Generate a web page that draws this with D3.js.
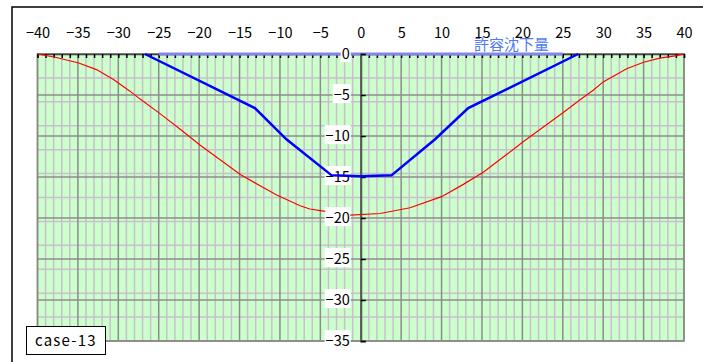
<!DOCTYPE html>
<html>
<head>
<meta charset="utf-8">
<script src="https://cdn.jsdelivr.net/npm/d3@7"></script>
<style>
  body { margin: 0; background: #fff; }
  svg text { font-family: "Noto Sans CJK JP", "Noto Sans", sans-serif; }
</style>
</head>
<body>
<svg id="chart" width="703" height="362"></svg>
<script>
// tick labels
const xTicks = [-40, -35, -30, -25, -20, -15, -10, -5, 0, 5, 10, 15, 20, 25, 30, 35, 40];
const yTicks = [0, -5, -10, -15, -20, -25, -30, -35];

// blue settlement line
const blueX = [-26.7, -13.1, -9.2, -3.6, 0, 3.8, 9.2, 13.3, 26.9];
const blueY = [0, -6.6, -10.4, -14.8, -14.9, -14.8, -10.4, -6.6, 0];

// red curve (null = gap)
const redX = [-40, -37.8, -34.9, -32.7, -30.6, -28.6, -27.3, -24.8, -22.3, -19.9, -17.4, -14.9, -12.4, -10.4, -7.5, -6.3, -4.4,
              -2.8,
              -1.3, 2.4, 6.1, 10, 12.7, 15.2, 17.6, 20.1, 22.6, 25.1, 27.1, 28.8, 30, 32.9, 35, 37, 39.1, 40];
const redY = [0, -0.4, -1.1, -1.9, -3.1, -4.5, -5.5, -7.3, -9.2, -11.1, -12.9, -14.7, -16.1, -17.2, -18.5, -18.9, -19.2,
              null,
              -19.65, -19.45, -18.75, -17.4, -15.9, -14.4, -12.6, -10.7, -8.9, -7.1, -5.6, -4.4, -3.4, -1.8, -1.0, -0.5, -0.2, 0];

// allowable settlement line
const limitX = [-25, 25];
const limitY = [0, 0];

const svg = d3.select('#chart');
const margin = { left: 37.5, right: 19, top: 54, bottom: 21 };
const width = +svg.attr('width');
const height = +svg.attr('height');

const x = d3.scaleLinear().domain([-40, 40]).range([margin.left, width - margin.right]);
const y = d3.scaleLinear().domain([0, -35]).range([margin.top, height - margin.bottom]);

// outer frame
svg.append('path')
    .attr('d', `M12,362 L12,7 L703,7`)
    .attr('fill', 'none')
    .attr('stroke', '#000')
    .attr('stroke-width', 1.5);

// plot background
svg.append('rect')
    .attr('x', x(-40)).attr('y', y(0))
    .attr('width', x(40) - x(-40)).attr('height', y(-35) - y(0))
    .attr('fill', '#ccffcc');

const grid = svg.append('g');
const minorX = d3.range(-39, 40).filter(d => d % 5 !== 0);
const minorY = d3.range(1, 12).map(i => -35 * i / 12);

grid.selectAll('.vminor').data(minorX).enter().append('line')
    .attr('x1', d => x(d)).attr('x2', d => x(d))
    .attr('y1', y(0)).attr('y2', y(-35))
    .attr('stroke', '#c8c0cc').attr('stroke-width', 1.5);

grid.selectAll('.hminor').data(minorY).enter().append('line')
    .attr('x1', x(-40)).attr('x2', x(40))
    .attr('y1', d => y(d)).attr('y2', d => y(d))
    .attr('stroke', '#c8c0cc').attr('stroke-width', 1.5);

grid.selectAll('.vmajor').data(xTicks).enter().append('line')
    .attr('x1', d => x(d)).attr('x2', d => x(d))
    .attr('y1', y(0)).attr('y2', y(-35))
    .attr('stroke', '#8c8c8c').attr('stroke-width', 1.5);

grid.selectAll('.hmajor').data(yTicks).enter().append('line')
    .attr('x1', x(-40)).attr('x2', x(40))
    .attr('y1', d => y(d)).attr('y2', d => y(d))
    .attr('stroke', '#8c8c8c').attr('stroke-width', 1.5);

// plot border
svg.append('rect')
    .attr('x', x(-40)).attr('y', y(0))
    .attr('width', x(40) - x(-40)).attr('height', y(-35) - y(0))
    .attr('fill', 'none')
    .attr('stroke', '#888').attr('stroke-width', 1.5);

const fmt = d => String(d).replace('-', '\u2212');

// top axis: labels
const xAxisG = svg.append('g')
    .attr('transform', `translate(0, ${y(0)})`)
    .call(d3.axisTop(x).tickValues(xTicks).tickSize(0).tickPadding(16).tickFormat(fmt));
xAxisG.select('.domain').remove();
xAxisG.selectAll('text').attr('font-size', 14.5).attr('fill', '#000');

// top axis: minor ticks pointing down
const xTickG = svg.append('g')
    .attr('transform', `translate(0, ${y(0)})`)
    .call(d3.axisBottom(x).tickValues(d3.range(-40, 41)).tickSize(4).tickFormat(''));
xTickG.select('.domain').attr('stroke', '#444').attr('stroke-width', 1.5);
xTickG.selectAll('.tick line').attr('stroke', '#000').attr('stroke-width', 1.5);

// allowable settlement
const line = d3.line().x(d => x(d[0])).y(d => y(d[1]));
svg.append('path')
    .datum(limitX.map((d, i) => [d, limitY[i]]))
    .attr('d', line)
    .attr('fill', 'none')
    .attr('stroke', '#8484ee')
    .attr('stroke-width', 3);

// y axis at x=0
const yAxisG = svg.append('g')
    .attr('transform', `translate(${x(0)}, 0)`)
    .call(d3.axisRight(y).tickValues(yTicks).tickSize(5).tickFormat(''));
yAxisG.select('.domain').attr('stroke', '#555').attr('stroke-width', 2);
yAxisG.selectAll('.tick line').attr('stroke', '#000').attr('stroke-width', 1.5);

const yLabelG = svg.append('g')
    .attr('transform', `translate(${x(0)}, 0)`)
    .call(d3.axisLeft(y).tickValues(yTicks).tickSize(0).tickPadding(11).tickFormat(fmt));
yLabelG.select('.domain').remove();
yLabelG.selectAll('text').attr('font-size', 14.5).attr('fill', '#000');
yLabelG.selectAll('.tick').each(function() {
    const t = d3.select(this).select('text');
    const b = t.node().getBBox();
    d3.select(this).insert('rect', 'text')
        .attr('x', b.x - 1).attr('y', b.y + 1)
        .attr('width', b.width + 2).attr('height', b.height - 2)
        .attr('fill', '#fff');
});

// red curve
svg.append('path')
    .datum(redX.map((d, i) => [d, redY[i]]))
    .attr('d', d3.line().defined(d => d[1] !== null).x(d => x(d[0])).y(d => y(d[1])))
    .attr('fill', 'none')
    .attr('stroke', '#ff0000')
    .attr('stroke-width', 1.2);

// blue line
svg.append('path')
    .datum(blueX.map((d, i) => [d, blueY[i]]))
    .attr('d', line)
    .attr('fill', 'none')
    .attr('stroke', '#0000ff')
    .attr('stroke-width', 2.5);

// label
svg.append('text')
    .attr('x', 474).attr('y', 50)
    .attr('font-size', 15)
    .attr('fill', '#4f7cf0')
    .text('許容沈下量');

// case box
svg.append('rect')
    .attr('x', 26.5).attr('y', 326.5)
    .attr('width', 79).attr('height', 28)
    .attr('fill', '#fff')
    .attr('stroke', '#000');
svg.append('text')
    .attr('x', 35).attr('y', 346)
    .attr('font-size', 15)
    .attr('letter-spacing', 1.2)
    .text('case-13');
</script>
</body>
</html>
